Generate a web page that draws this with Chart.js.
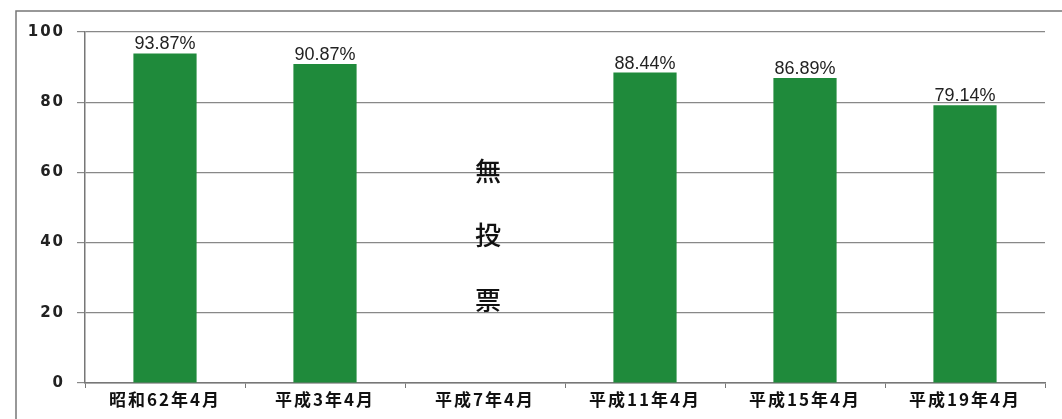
<!DOCTYPE html>
<html>
<head>
<meta charset="utf-8">
<script src="https://cdn.jsdelivr.net/npm/chart.js@4"></script>
<style>
  html, body { margin: 0; padding: 0; background: #fff; }
  #wrap { width: 1062px; height: 419px; position: relative; }
</style>
</head>
<body>
<div id="wrap"><canvas id="voteChart"></canvas></div>
<script>
// ==========================
// DATA
// ==========================
const categories = ['昭和62年4月', '平成3年4月', '平成7年4月', '平成11年4月', '平成15年4月', '平成19年4月'];
const turnout = [93.87, 90.87, null, 88.44, 86.89, 79.14];
const yTicks = [0, 20, 40, 60, 80, 100];
const noVoteIndex = 2;
const noVoteText = ['無', '投', '票'];

// ==========================
// PLUGINS
// ==========================
const framePlugin = {
    id: 'frame',
    beforeDraw(chart) {
        const c = chart.ctx;
        c.save();
        c.strokeStyle = '#777';
        c.lineWidth = 1.5;
        c.beginPath();
        c.moveTo(16, chart.height);
        c.lineTo(16, 11);
        c.lineTo(chart.width, 11);
        c.stroke();
        c.restore();
        // wider letter spacing for the axis labels (scanned original looks spaced)
        c.letterSpacing = '2px';
    },
    beforeDatasetsDraw(chart) {
        chart.ctx.letterSpacing = '0px';
    }
};

const labelPlugin = {
    id: 'barLabels',
    afterDatasetsDraw(chart) {
        const c = chart.ctx;
        const meta = chart.getDatasetMeta(0);
        c.save();
        c.letterSpacing = '0px';
        c.fillStyle = '#222';
        c.font = '18px "Liberation Sans", Arial, sans-serif';
        c.textAlign = 'center';
        c.textBaseline = 'bottom';
        meta.data.forEach((bar, i) => {
            if (turnout[i] == null) return;
            c.fillText(turnout[i].toFixed(2) + '%', bar.x, bar.y);
        });

        // 無投票
        const xs = chart.scales.x;
        const ca = chart.chartArea;
        const x = xs.getPixelForValue(noVoteIndex) + 3;
        c.font = '500 26px "Noto Sans CJK JP", sans-serif';
        c.fillStyle = '#111';
        c.textBaseline = 'middle';
        const h = ca.bottom - ca.top;
        noVoteText.forEach((ch, k) => {
            c.fillText(ch, x, ca.top + h * (0.395 + k * 0.185));
        });
        c.restore();
    }
};

// ==========================
// CHART
// ==========================
const ctx = document.getElementById('voteChart').getContext('2d');

const voteChart = new Chart(ctx, {

    type: 'bar',

    data: {

        labels: categories,

        datasets: [{

            data: turnout,

            backgroundColor: '#1f8a3b',

            borderWidth: 0,

            categoryPercentage: 1,

            barPercentage: 0.395

        }]

    },

    options: {

        responsive: true,

        maintainAspectRatio: false,

        animation: false,

        layout: { padding: { top: 32, right: 17, left: 0, bottom: 0 } },

        plugins: {

            legend: { display: false },

            tooltip: { enabled: false }

        },

        scales: {

            x: {

                grid: {

                    display: true,

                    drawOnChartArea: false,

                    drawTicks: true,

                    tickLength: 5,

                    offset: true,

                    color: '#777'

                },

                border: { color: '#777', width: 1.5 },

                ticks: {

                    color: '#111',

                    font: { family: '"Noto Sans CJK JP", sans-serif', size: 17, weight: 'bold' },

                    padding: 1

                },

                afterFit(s) { s.height = 36; }

            },

            y: {

                min: 0,

                max: 100,

                afterBuildTicks(s) { s.ticks = yTicks.map(v => ({ value: v })); },

                grid: {

                    color: '#888',

                    lineWidth: 1.2,

                    tickLength: 8

                },

                border: { color: '#777', width: 1.5 },

                ticks: {

                    color: '#222',

                    font: { family: '"DejaVu Sans", sans-serif', size: 15, weight: 'bold' },

                    padding: 12

                },

                afterFit(s) { s.width = 85; }

            }

        }

    },

    plugins: [framePlugin, labelPlugin]

});
</script>
</body>
</html>
